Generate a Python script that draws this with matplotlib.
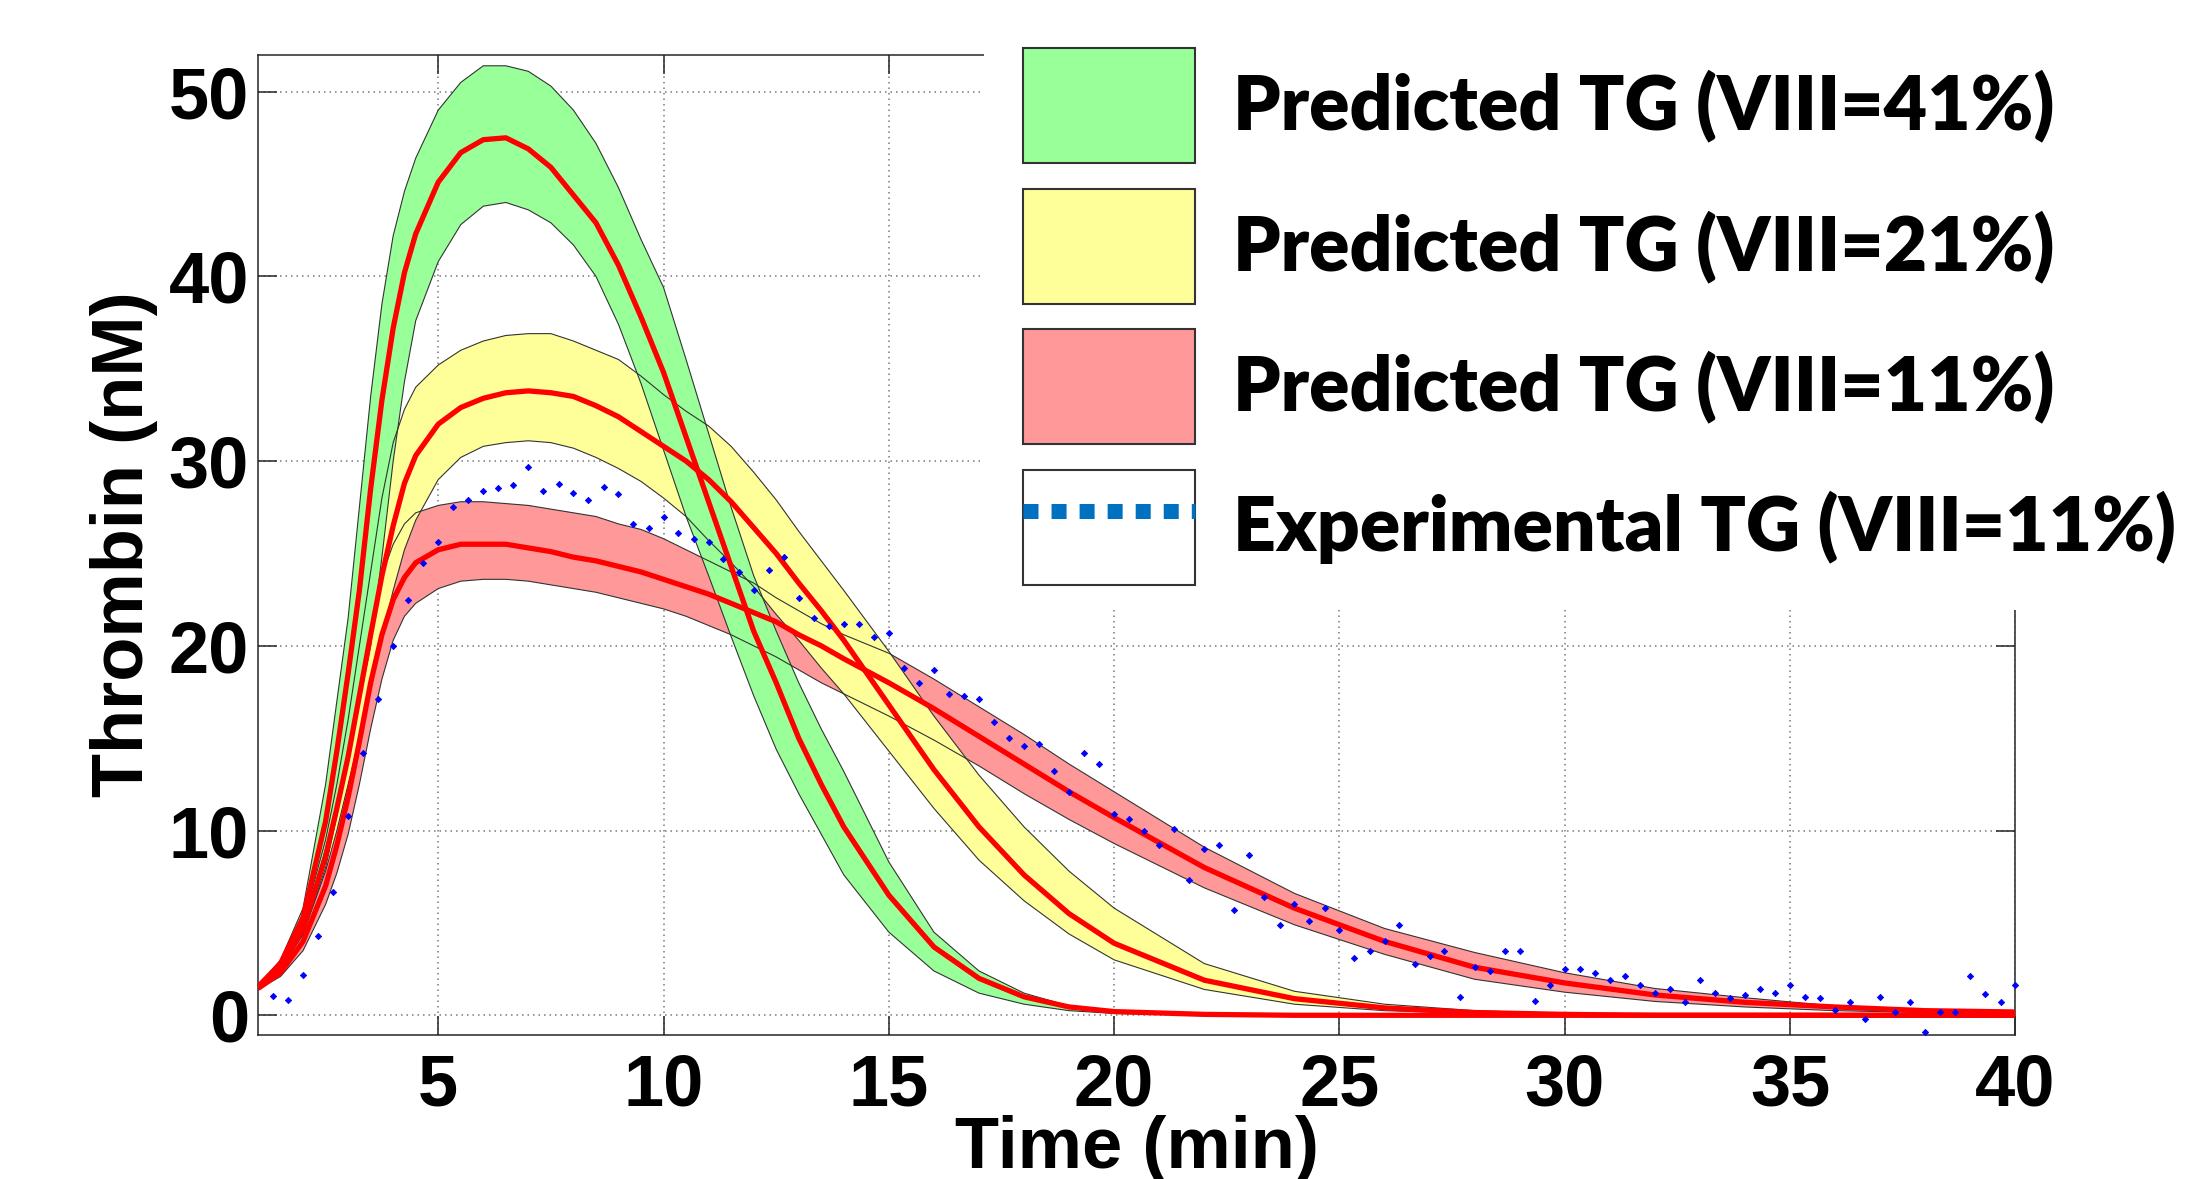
import numpy as np
import matplotlib
matplotlib.use("Agg")
import matplotlib.pyplot as plt
from matplotlib.patches import Patch, Rectangle
from matplotlib.lines import Line2D
from matplotlib.legend_handler import HandlerTuple

plt.rcParams['font.family'] = ['Liberation Sans', 'DejaVu Sans']
plt.rcParams['font.weight'] = 'bold'

# ── time grid of the predicted curves (min) ──────────────────────────
t = [1, 1.5, 2, 2.5, 2.75, 3, 3.25, 3.5, 3.75, 4, 4.25, 4.5,
     5, 5.5, 6, 6.5, 7, 7.5, 8, 8.5, 9, 9.5, 10,
     10.5, 11, 11.5, 12, 12.5, 13, 13.5, 14,
     15, 16, 17, 18, 19, 20,
     22, 24, 26, 28, 30, 32, 34, 36, 38, 40]

# ── predicted TG, VIII = 41 % (green band) ───────────────────────────
g_hi = [1.6, 3.0, 5.8, 12.5, 17.0, 21.5, 27.5, 33.5, 38.5, 42.2, 44.6, 46.4,
        49.0, 50.5, 51.4, 51.4, 51.1, 50.3, 49.0, 47.2, 44.8, 42.0, 39.4,
        35.5, 31.5, 27.5, 23.8, 20.8, 18.0, 15.5, 13.2,
        8.3, 4.5, 2.4, 1.2, 0.5, 0.2,
        0.05, 0, 0, 0, 0, 0, 0, 0, 0, 0]
g_mid = [1.55, 2.8, 5.3, 10.5, 14.3, 18.5, 23.0, 28.5, 33.3, 37.2, 40.2, 42.3,
         45.1, 46.7, 47.4, 47.5, 46.9, 45.9, 44.4, 42.9, 40.6, 37.8, 34.8,
         31.3, 27.8, 24.3, 20.8, 18.0, 15.0, 12.5, 10.2,
         6.5, 3.7, 2.0, 1.0, 0.45, 0.2,
         0.05, 0, 0, 0, 0, 0, 0, 0, 0, 0]
g_lo = [1.5, 2.6, 4.8, 9.0, 11.5, 14.0, 17.0, 20.0, 24.8, 30.0, 34.3, 37.6,
        40.8, 42.8, 43.8, 44.0, 43.6, 42.9, 41.7, 40.0, 37.4, 34.2, 30.6,
        27.0, 23.8, 20.5, 17.3, 14.4, 12.0, 9.8, 7.6,
        4.5, 2.4, 1.2, 0.6, 0.25, 0.1,
        0.02, 0, 0, 0, 0, 0, 0, 0, 0, 0]

# ── predicted TG, VIII = 21 % (yellow band) ──────────────────────────
y_hi = [1.55, 2.7, 5.0, 9.5, 12.5, 16.0, 20.0, 24.0, 28.0, 31.0, 32.8, 34.0,
        35.2, 36.0, 36.5, 36.8, 36.9, 36.9, 36.5, 36.0, 35.5, 34.6, 33.6,
        32.7, 31.9, 30.8, 29.4, 27.9, 26.2, 24.6, 23.0,
        19.7, 16.2, 13.0, 10.2, 7.8, 5.8,
        2.8, 1.3, 0.6, 0.25, 0.1, 0.04, 0, 0, 0, 0]
y_mid = [1.5, 2.6, 4.7, 8.6, 11.2, 14.0, 17.3, 20.6, 23.8, 26.5, 28.8, 30.3,
         32.0, 32.9, 33.4, 33.7, 33.8, 33.7, 33.5, 33.0, 32.4, 31.6, 30.8,
         30.0, 29.0, 27.8, 26.4, 25.0, 23.4, 21.9, 20.3,
         16.8, 13.3, 10.2, 7.6, 5.5, 3.9,
         1.9, 0.9, 0.4, 0.15, 0.05, 0, 0, 0, 0, 0]
y_lo = [1.45, 2.5, 4.4, 7.8, 10.0, 12.5, 15.0, 17.8, 20.5, 23.0, 25.2, 26.8,
        29.0, 30.2, 30.8, 31.0, 31.1, 31.0, 30.7, 30.2, 29.6, 28.9, 28.0,
        27.0, 25.7, 24.5, 23.2, 21.7, 20.3, 18.8, 17.4,
        14.3, 11.2, 8.4, 6.2, 4.4, 3.0,
        1.4, 0.6, 0.25, 0.1, 0.03, 0, 0, 0, 0, 0]

# ── predicted TG, VIII = 11 % (red band) ─────────────────────────────
r_hi = [1.45, 2.5, 4.4, 8.0, 10.8, 14.0, 17.5, 21.0, 23.8, 25.5, 26.6, 27.2,
        27.6, 27.8, 27.8, 27.7, 27.6, 27.4, 27.2, 27.0, 26.6, 26.3, 25.8,
        25.2, 24.6, 24.0, 23.4, 22.6, 21.9, 21.2, 20.6,
        19.6, 18.2, 16.7, 15.2, 13.6, 12.1,
        9.1, 6.6, 4.7, 3.4, 2.3, 1.45, 0.95, 0.5, 0.3, 0.2]
r_mid = [1.45, 2.3, 4.0, 7.0, 9.2, 11.8, 14.8, 18.0, 20.6, 22.5, 23.7, 24.5,
         25.2, 25.5, 25.5, 25.5, 25.3, 25.1, 24.8, 24.6, 24.3, 24.0, 23.6,
         23.2, 22.8, 22.3, 21.8, 21.3, 20.6, 20.0, 19.3,
         18.0, 16.6, 15.1, 13.6, 12.1, 10.7,
         8.0, 5.8, 4.0, 2.6, 1.75, 1.1, 0.7, 0.45, 0.25, 0.18]
r_lo = [1.4, 2.1, 3.5, 6.0, 7.7, 9.8, 12.5, 15.5, 18.2, 20.3, 21.6, 22.3,
        23.1, 23.5, 23.6, 23.6, 23.5, 23.3, 23.1, 22.9, 22.6, 22.3, 22.0,
        21.6, 21.1, 20.6, 20.0, 19.4, 18.7, 18.0, 17.4,
        16.2, 14.9, 13.5, 12.0, 10.6, 9.3,
        6.9, 4.9, 3.3, 1.95, 1.25, 0.75, 0.45, 0.25, 0.15, 0.1]

# ── experimental TG, VIII = 11 % (one reading every 20 s) ────────────
t_exp = [1.33, 1.67, 2.0, 2.33, 2.67, 3.0, 3.33, 3.67, 4.0, 4.33, 4.67, 5.0,
         5.33, 5.67, 6.0, 6.33, 6.67, 7.0, 7.33, 7.67, 8.0, 8.33, 8.67, 9.0,
         9.33, 9.67, 10.0, 10.33, 10.67, 11.0, 11.33, 11.67, 12.0, 12.33, 12.67, 13.0,
         13.33, 13.67, 14.0, 14.33, 14.67, 15.0, 15.33, 15.67, 16.0, 16.33, 16.67, 17.0,
         17.33, 17.67, 18.0, 18.33, 18.67, 19.0, 19.33, 19.67, 20.0, 20.33, 20.67, 21.0,
         21.33, 21.67, 22.0, 22.33, 22.67, 23.0, 23.33, 23.67, 24.0, 24.33, 24.67, 25.0,
         25.33, 25.67, 26.0, 26.33, 26.67, 27.0, 27.33, 27.67, 28.0, 28.33, 28.67, 29.0,
         29.33, 29.67, 30.0, 30.33, 30.67, 31.0, 31.33, 31.67, 32.0, 32.33, 32.67, 33.0,
         33.33, 33.67, 34.0, 34.33, 34.67, 35.0, 35.33, 35.67, 36.0, 36.33, 36.67, 37.0,
         37.33, 37.67, 38.0, 38.33, 38.67, 39.0, 39.33, 39.67, 40.0]
v_exp = [1.05, 0.81, 2.2, 4.3, 6.7, 10.8, 14.2, 17.1, 20.0, 22.5, 24.5, 25.6,
         27.5, 27.9, 28.4, 28.55, 28.7, 29.7, 28.4, 28.76, 28.3, 27.9, 28.6, 28.2,
         26.6, 26.4, 27.0, 26.1, 25.8, 25.6, 24.7, 24.0, 23.0, 24.1, 24.8, 22.6,
         21.5, 21.1, 21.2, 21.2, 20.5, 20.7, 18.8, 18.0, 18.7, 17.4, 17.3, 17.1,
         15.9, 15.0, 14.6, 14.7, 13.2, 12.1, 14.2, 13.6, 10.9, 10.6, 10.0, 9.2,
         10.1, 7.3, 9.0, 9.2, 5.7, 8.7, 6.4, 4.9, 6.0, 5.1, 5.8, 4.6,
         3.1, 3.5, 4.0, 4.9, 2.8, 3.2, 3.5, 1.0, 2.6, 2.4, 3.5, 3.5,
         0.78, 1.64, 2.5, 2.5, 2.3, 1.9, 2.1, 1.64, 1.23, 1.44, 0.72, 1.9,
         1.2, 0.92, 1.1, 1.44, 1.23, 1.64, 1.0, 0.92, 0.29, 0.7, -0.18, 1.0,
         0.2, 0.7, -0.92, 0.2, 0.2, 2.1, 1.14, 0.7, 1.64]

labels = ['Predicted TG (VIII=41%)', 'Predicted TG (VIII=21%)',
          'Predicted TG (VIII=11%)', 'Experimental TG (VIII=11%)']

c_green, c_yellow, c_red = '#99FF99', '#FFFF99', '#FF9999'
edge = '#333333'

# ══════════════════════════════════════════════════════════════════════
fig = plt.figure(figsize=(21.89, 11.79), dpi=100)
ax = fig.add_axes([0.11786, 0.12256, 0.80283, 0.83105])

bands = [(r_lo, r_hi, c_red), (y_lo, y_hi, c_yellow), (g_lo, g_hi, c_green)]
for lo, hi, c in bands:
    ax.fill_between(t, lo, hi, facecolor=c, edgecolor='none', zorder=2)
for lo, hi, c in bands:
    ax.plot(t, lo, color=edge, lw=0.8, zorder=3)
    ax.plot(t, hi, color=edge, lw=0.8, zorder=3)
for mid in (r_mid, y_mid, g_mid):
    ax.plot(t, mid, color='#FF0000', lw=3.8, zorder=4, solid_capstyle='butt')

ax.plot(t_exp, v_exp, ls='none', marker='D', ms=3.2, mew=0.6,
        color='#0000FF', zorder=5, clip_on=False)

ax.set_xlim(1, 40)
ax.set_ylim(-1.04, 52)
ax.set_xticks([5, 10, 15, 20, 25, 30, 35, 40])
ax.set_yticks([0, 10, 20, 30, 40, 50])
ax.tick_params(direction='in', length=13.5, width=1.1, color='#262626',
               top=True, right=True, labelsize=52)
ax.tick_params(axis='x', pad=13)
ax.tick_params(axis='y', pad=6.5)
ax.grid(True, linestyle=(0, (1, 2.6)), color='#7a7a7a', lw=1.1)
ax.set_axisbelow(True)
for s in ax.spines.values():
    s.set_color('#262626')
    s.set_linewidth(1.1)

ax.set_ylabel('Thrombin (nM)', fontsize=52, fontweight='bold')
ax.yaxis.set_label_coords(-0.0569, 0.5)
ax.set_xlabel('Time (min)', fontsize=52, fontweight='bold')
ax.xaxis.set_label_coords(0.5, -0.082)

# white panel behind the legend (it sits over the top-right of the axes)
fig.add_artist(Rectangle((0.4495, 0.4826), 0.6, 0.6, transform=fig.transFigure,
                         facecolor='white', edgecolor='none', zorder=3))

handles = [Patch(facecolor=c_green, edgecolor=edge, lw=1.5),
           Patch(facecolor=c_yellow, edgecolor=edge, lw=1.5),
           Patch(facecolor=c_red, edgecolor=edge, lw=1.5),
           (Patch(facecolor='white', edgecolor=edge, lw=1.5),
            Line2D([], [], color='#0070C0', lw=10.8, ls=(0, (1, 0.87)),
                   dash_capstyle='butt'))]
leg = fig.legend(handles, labels, loc='upper left', bbox_to_anchor=(0.4673, 0.9593),
                 frameon=False, borderpad=0, borderaxespad=0,
                 handlelength=2.29, handleheight=1.98, labelspacing=0.343,
                 handletextpad=0.51,
                 prop=dict(family=['Lato', 'DejaVu Sans'], weight='heavy', size=54),
                 handler_map={tuple: HandlerTuple(ndivide=1)})
leg.set_zorder(5)

fig.savefig('out.png', dpi=100, facecolor='white')
